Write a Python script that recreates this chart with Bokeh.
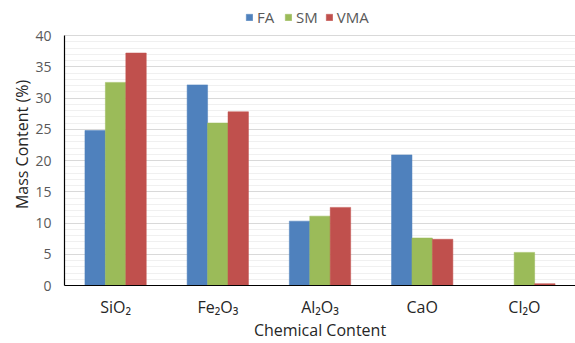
from bokeh.plotting import figure
from bokeh.models import ColumnDataSource, FactorRange, Legend, LegendItem, SingleIntervalTicker
from bokeh.transform import dodge
from bokeh.embed import file_html
from bokeh.resources import INLINE

categories = ["SiO\u2082", "Fe\u2082O\u2083", "Al\u2082O\u2083", "CaO", "Cl\u2082O"]
series = ["FA", "SM", "VMA"]
fa = [24.8, 32.1, 10.3, 20.9, 0.0]
sm = [32.5, 26.0, 11.1, 7.6, 5.3]
vma = [37.2, 27.8, 12.5, 7.4, 0.3]
colors = ["#4F81BD", "#9BBB59", "#C0504D"]

src = ColumnDataSource(dict(cat=categories, FA=fa, SM=sm, VMA=vma))

FONT = "Open Sans"

p = figure(width=575, height=343, output_backend="svg", toolbar_location=None,
           x_range=FactorRange(*categories, range_padding=0), y_range=(0, 45.12),
           min_border_left=64, min_border_right=0, min_border_top=3, min_border_bottom=55,
           outline_line_color=None, background_fill_color="white", border_fill_color="white")

renderers = []
for i, (s, c) in enumerate(zip(series, colors)):
    r = p.vbar(x=dodge("cat", (i - 1) * 0.2, range=p.x_range), top=s, width=0.2,
               source=src, fill_color=c, line_color=c, line_width=0.5)
    renderers.append(r)

p.yaxis.ticker = SingleIntervalTicker(interval=5, num_minor_ticks=5)
p.yaxis.bounds = (0, 40)
p.ygrid.bounds = (0, 40)
p.ygrid.grid_line_color = "#D9D9D9"
p.ygrid.minor_grid_line_color = "#F0F0F0"
p.xgrid.grid_line_color = None

for ax in (p.xaxis[0], p.yaxis[0]):
    ax.axis_line_color = "black"
    ax.axis_line_width = 1.2
    ax.major_tick_line_color = None
    ax.minor_tick_line_color = None
    ax.major_tick_out = 0
    ax.major_tick_in = 0
    ax.minor_tick_out = 0
    ax.minor_tick_in = 0
    ax.major_label_text_font = FONT
    ax.major_label_text_color = "#595959"
    ax.major_label_text_font_size = "14px"
    ax.axis_label_text_font = FONT
    ax.axis_label_text_font_style = "normal"
    ax.axis_label_text_font_size = "16px"
    ax.axis_label_text_color = "#262626"

p.xaxis.major_label_text_color = "#262626"
p.xaxis.major_label_text_font_size = "16px"
p.xaxis.major_label_standoff = 10
p.xaxis.axis_label = "Chemical Content"
p.xaxis.axis_label_standoff = -2
p.yaxis.axis_label = "Mass Content (%)"
p.yaxis.major_label_standoff = 13
p.yaxis.axis_label_standoff = -1

legend = Legend(items=[LegendItem(label=s, renderers=[r]) for s, r in zip(series, renderers)],
                orientation="horizontal", location=(181, 258),
                label_text_font=FONT, label_text_font_size="15px", label_text_color="#595959",
                glyph_width=8, glyph_height=8, label_standoff=4, spacing=7,
                label_height=16, padding=2, margin=0, border_line_color=None,
                background_fill_alpha=0)
p.add_layout(legend, "center")

open("out.html", "w").write(file_html(p, INLINE))
